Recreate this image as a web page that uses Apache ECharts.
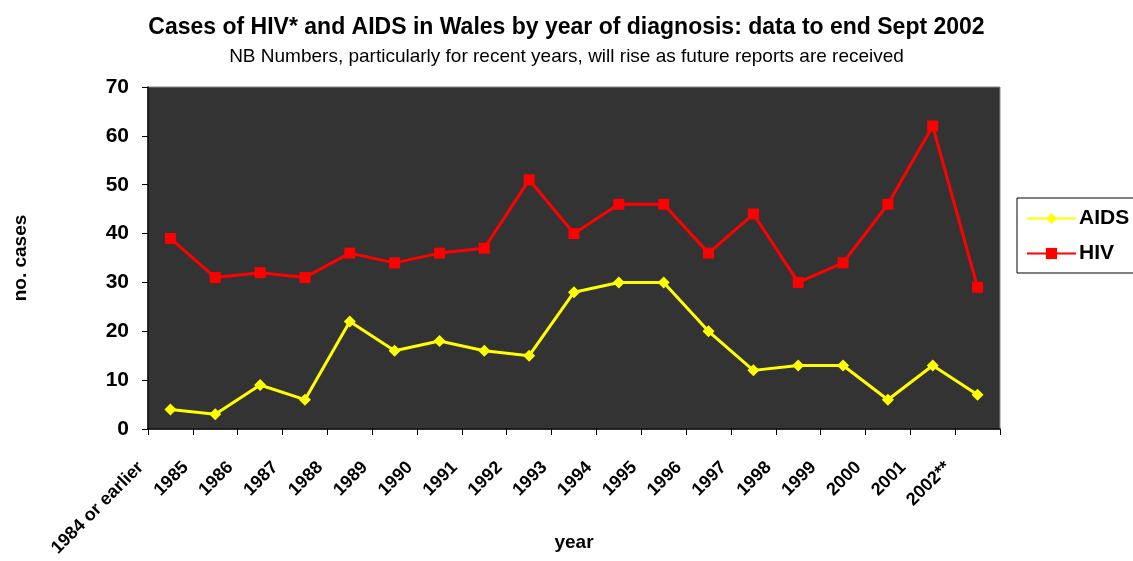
<!DOCTYPE html>
<html>
<head>
<meta charset="utf-8">
<script src="https://cdn.jsdelivr.net/npm/echarts@6/dist/echarts.min.js"></script>
<style>
  html, body { margin: 0; padding: 0; background: #ffffff; }
  #chart { width: 1133px; height: 561px; }
</style>
</head>
<body>
<div id="chart"></div>
<script>
// Year of diagnosis (categories along the x axis)
const years = ['1984 or earlier', '1985', '1986', '1987', '1988', '1989', '1990', '1991', '1992',
  '1993', '1994', '1995', '1996', '1997', '1998', '1999', '2000', '2001', '2002**'];

// Cases per year
const aidsCases = [4, 3, 9, 6, 22, 16, 18, 16, 15, 28, 30, 30, 20, 12, 13, 13, 6, 13, 7];
const hivCases = [39, 31, 32, 31, 36, 34, 36, 37, 51, 40, 46, 46, 36, 44, 30, 34, 46, 62, 29];

// Value axis range and step
const yMin = 0;
const yMax = 70;
const yStep = 10;

const FONT = '"Liberation Sans", Arial, sans-serif';

const chart = echarts.init(document.getElementById('chart'), null, { renderer: 'canvas' });

chart.setOption({
  backgroundColor: '#ffffff',
  animation: false,
  title: [
    {
      text: 'Cases of HIV* and AIDS in Wales by year of diagnosis: data to end Sept 2002',
      left: 'center',
      top: 11,
      textStyle: { fontFamily: FONT, fontSize: 23, fontWeight: 'bold', color: '#000000' }
    },
    {
      text: 'NB Numbers, particularly for recent years, will rise as future reports are received',
      left: 'center',
      top: 42,
      textStyle: { fontFamily: FONT, fontSize: 19, fontWeight: 'normal', color: '#000000' }
    }
  ],
  legend: {
    orient: 'vertical',
    left: 1017,
    top: 198,
    padding: [10, 12, 9, 9],
    itemGap: 14,
    itemWidth: 49,
    itemHeight: 14,
    borderColor: '#000000',
    borderWidth: 1,
    backgroundColor: '#ffffff',
    textStyle: { fontFamily: FONT, fontSize: 21, fontWeight: 'bold', color: '#000000', padding: [0, 0, 0, -2] },
    data: ['AIDS', 'HIV']
  },
  grid: {
    left: 148,
    top: 87,
    right: 133,
    bottom: 132,
    outerBoundsMode: 'none',
    show: true,
    backgroundColor: '#333333',
    borderColor: '#888888',
    borderWidth: 1
  },
  xAxis: {
    type: 'category',
    data: years,
    boundaryGap: true,
    name: 'year',
    nameLocation: 'middle',
    nameGap: 104,
    nameMoveOverlap: false,
    nameTextStyle: { fontFamily: FONT, fontSize: 19, fontWeight: 'bold', color: '#000000' },
    axisLine: { show: true, lineStyle: { color: '#000000', width: 1.5 } },
    axisTick: { show: true, length: 6, lineStyle: { color: '#000000', width: 1 } },
    axisLabel: {
      interval: 0,
      rotate: 45,
      margin: 6,
      padding: [0, 42, 0, 0],
      fontFamily: FONT,
      fontSize: 18,
      fontWeight: 'bold',
      color: '#000000'
    },
    splitLine: { show: false }
  },
  yAxis: {
    type: 'value',
    min: yMin,
    max: yMax,
    interval: yStep,
    name: 'no. cases',
    nameLocation: 'middle',
    nameGap: 118,
    nameRotate: 90,
    nameMoveOverlap: false,
    nameTextStyle: { fontFamily: FONT, fontSize: 19, fontWeight: 'bold', color: '#000000' },
    axisLine: { show: true, lineStyle: { color: '#000000', width: 1.5 } },
    axisTick: { show: true, length: 6, lineStyle: { color: '#000000', width: 1 } },
    axisLabel: {
      margin: 19,
      fontFamily: FONT,
      fontSize: 21,
      fontWeight: 'bold',
      color: '#000000'
    },
    splitLine: { show: false }
  },
  series: [
    {
      name: 'AIDS',
      type: 'line',
      data: aidsCases,
      symbol: 'diamond',
      symbolSize: 12,
      showAllSymbol: true,
      lineStyle: { color: '#ffff00', width: 3 },
      itemStyle: { color: '#ffff00' },
      z: 3
    },
    {
      name: 'HIV',
      type: 'line',
      data: hivCases,
      symbol: 'rect',
      symbolSize: 11,
      showAllSymbol: true,
      lineStyle: { color: '#ff0000', width: 3 },
      itemStyle: { color: '#ff0000' },
      z: 4
    }
  ]
});
</script>
</body>
</html>
